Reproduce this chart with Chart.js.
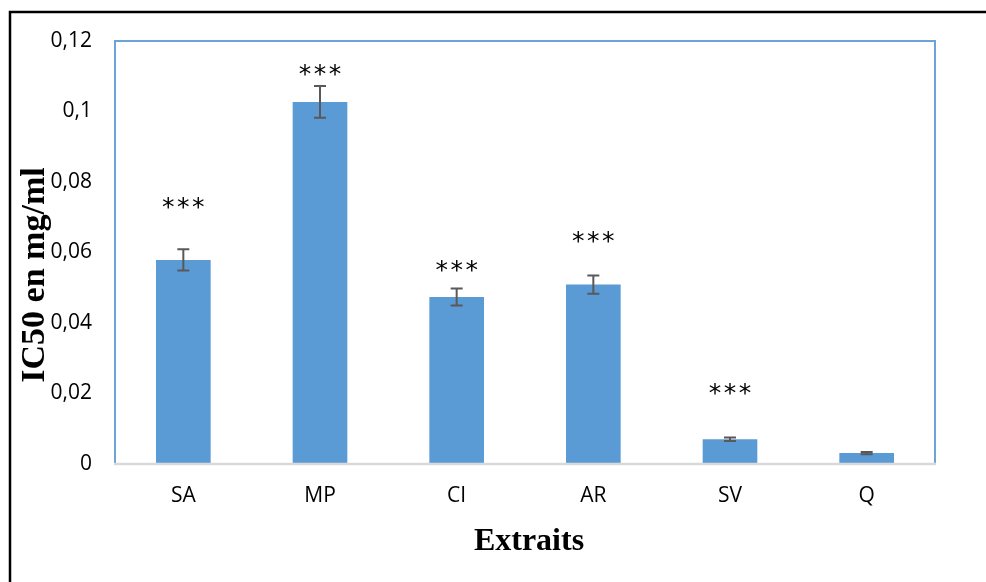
<!DOCTYPE html>
<html>
<head>
<meta charset="utf-8">
<script src="https://cdn.jsdelivr.net/npm/chart.js@4.4.0/dist/chart.umd.min.js"></script>
<style>
  body { margin: 0; background: #fff; }
  canvas { display: block; }
</style>
</head>
<body>
<canvas id="ic50Chart" width="986" height="582"></canvas>
<script>
const categories = ["SA", "MP", "CI", "AR", "SV", "Q"];
const ic50Values = [0.0579, 0.1027, 0.0474, 0.0509, 0.0070, 0.0031];
const ic50Errors = [0.0030, 0.0045, 0.0024, 0.0026, 0.0005, 0.0003];
const starLevels = [0.0745, 0.1121, 0.0565, 0.0648, 0.0217, null];
const starText = "***";
const yTickLabels = ["0", "0,02", "0,04", "0,06", "0,08", "0,1", "0,12"];

const barColor = "#5B9BD5";
const errColor = "#595959";

// error bars, stars, frame and axis titles
const extras = {
    id: "extras",
    beforeDraw(chart) {
        const ctx = chart.ctx;
        ctx.save();
        ctx.fillStyle = "#fff";
        ctx.fillRect(0, 0, chart.width, chart.height);
        ctx.restore();
    },
    afterDatasetsDraw(chart) {
        const ctx = chart.ctx;
        const y = chart.scales.y;
        const meta = chart.getDatasetMeta(0);
        ctx.save();
        ctx.strokeStyle = errColor;
        ctx.lineWidth = 2;
        meta.data.forEach((bar, i) => {
            const top = y.getPixelForValue(ic50Values[i] + ic50Errors[i]);
            const bot = y.getPixelForValue(ic50Values[i] - ic50Errors[i]);
            ctx.beginPath();
            ctx.moveTo(bar.x, top);
            ctx.lineTo(bar.x, bot);
            ctx.moveTo(bar.x - 6, top);
            ctx.lineTo(bar.x + 6, top);
            ctx.moveTo(bar.x - 6, bot);
            ctx.lineTo(bar.x + 6, bot);
            ctx.stroke();
        });

        ctx.fillStyle = "#000";
        ctx.font = "25px 'DejaVu Sans'";
        ctx.textAlign = "center";
        ctx.textBaseline = "alphabetic";
        meta.data.forEach((bar, i) => {
            if (starLevels[i] === null) return;
            const cy = y.getPixelForValue(starLevels[i]) + 13.5;
            for (let k = -1; k <= 1; k++) {
                ctx.fillText(starText[k + 1], bar.x + k * 15, cy);
            }
        });
        ctx.restore();
    },
    afterDraw(chart) {
        const ctx = chart.ctx;
        const a = chart.chartArea;
        ctx.save();
        // plot frame
        ctx.strokeStyle = "#6FA3D8";
        ctx.lineWidth = 2;
        ctx.strokeRect(a.left, a.top, a.right - a.left, a.bottom - a.top);
        ctx.strokeStyle = "#D9D9D9";
        ctx.lineWidth = 2.5;
        ctx.beginPath();
        ctx.moveTo(a.left - 1, a.bottom);
        ctx.lineTo(a.right + 1, a.bottom);
        ctx.stroke();

        // outer page border
        ctx.strokeStyle = "#000";
        ctx.lineWidth = 2.5;
        ctx.beginPath();
        ctx.moveTo(10, chart.height + 5);
        ctx.lineTo(10, 12);
        ctx.lineTo(chart.width + 5, 12);
        ctx.stroke();

        // axis titles
        ctx.fillStyle = "#000";
        ctx.font = "bold 32px 'Liberation Serif'";
        ctx.textAlign = "center";
        ctx.textBaseline = "alphabetic";
        ctx.fillText("Extraits", 529, 550);

        ctx.font = "bold 34px 'Liberation Serif'";
        ctx.translate(44, 275);
        ctx.rotate(-Math.PI / 2);
        ctx.fillText("IC50 en mg/ml", 0, 0);
        ctx.restore();
    },
};

new Chart(document.getElementById("ic50Chart"), {
    type: "bar",
    data: {
        labels: categories,
        datasets: [
            {
                label: "IC50",
                data: ic50Values,
                backgroundColor: barColor,
                borderWidth: 0,
                barPercentage: 0.4,
                categoryPercentage: 1.0,
            },
        ],
    },
    options: {
        responsive: false,
        animation: false,
        layout: {
            padding: { left: 10, top: 41, right: 51, bottom: 0 },
        },
        plugins: {
            legend: { display: false },
            tooltip: { enabled: false },
        },
        scales: {
            x: {
                grid: { display: false },
                border: { display: false },
                ticks: {
                    color: "#000",
                    padding: 11,
                    autoSkip: false,
                    maxRotation: 0,
                    font: { family: "'Open Sans'", size: 21 },
                },
                afterFit(scale) {
                    scale.height = 118;
                },
            },
            y: {
                min: 0,
                max: 0.12,
                grid: { display: false },
                border: { display: false },
                ticks: {
                    stepSize: 0.02,
                    color: "#000",
                    padding: 15,
                    font: { family: "'Open Sans'", size: 21 },
                    callback: (val, i) => yTickLabels[i],
                },
                afterFit(scale) {
                    scale.width = 105;
                },
            },
        },
    },
    plugins: [extras],
});
</script>
</body>
</html>
